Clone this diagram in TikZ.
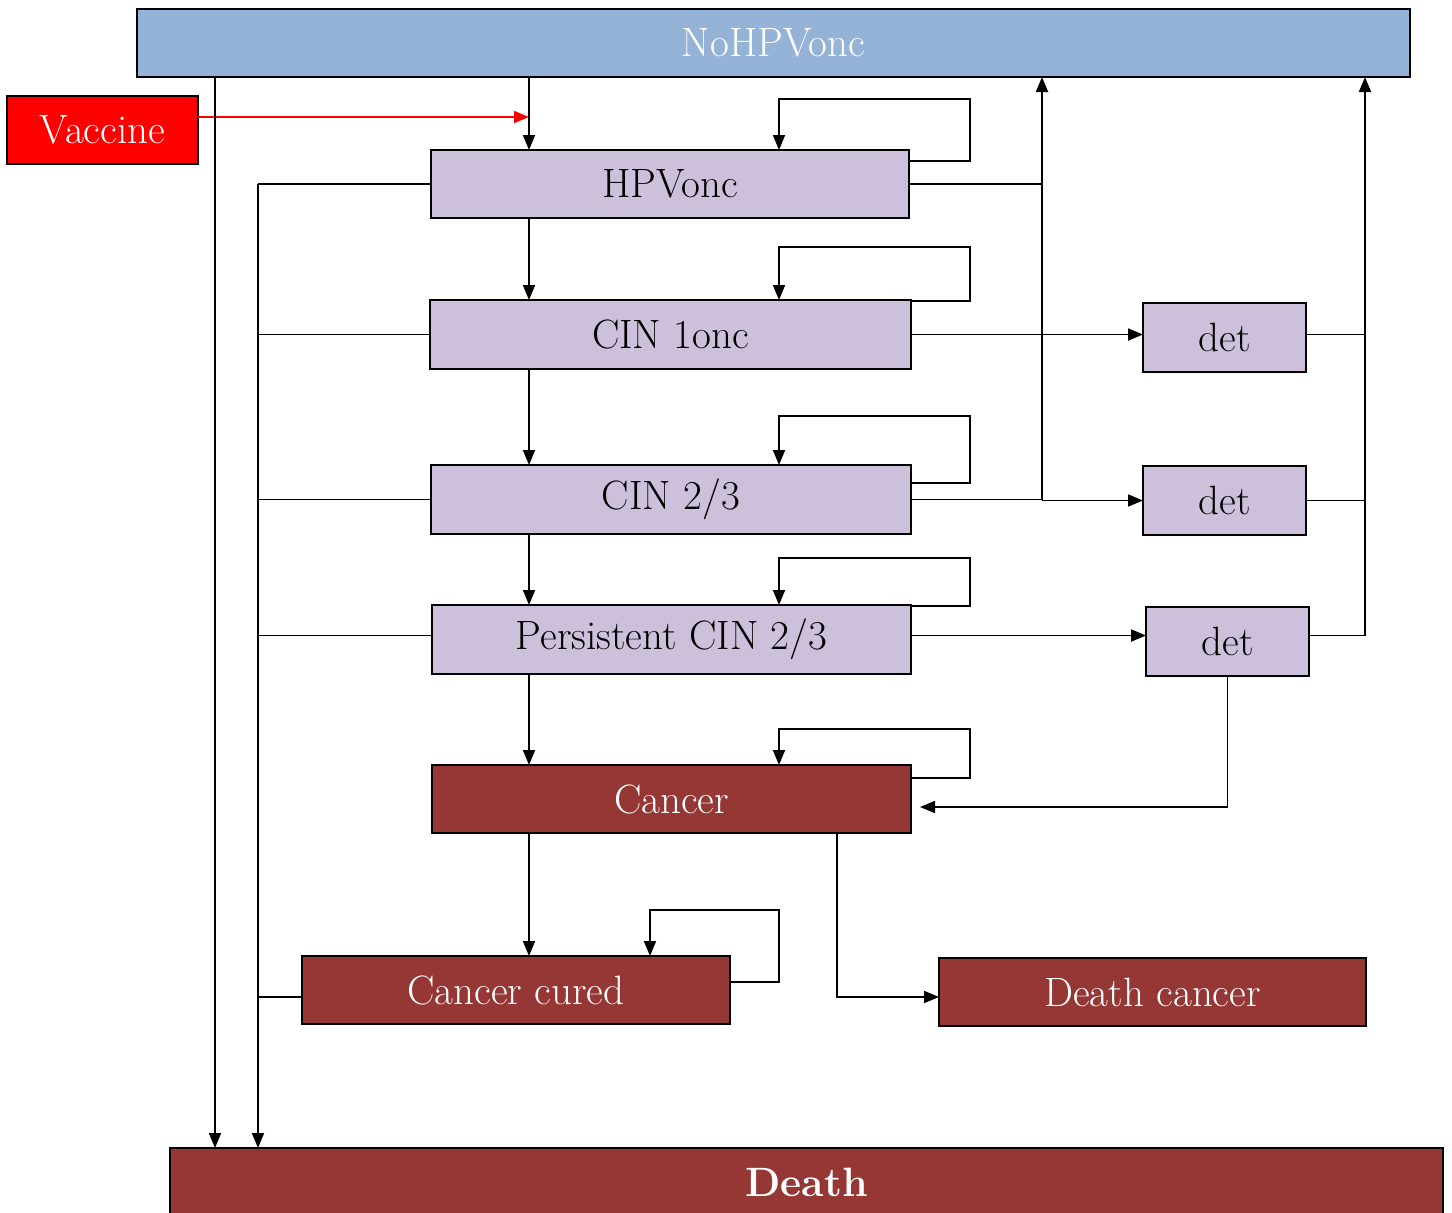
\documentclass[tikz,border=0pt]{standalone}
\usetikzlibrary{arrows.meta}
\definecolor{hpvblue}{HTML}{95B3D7}
\definecolor{lav}{HTML}{CCC0DA}
\definecolor{canc}{HTML}{953735}
\begin{document}
\begin{tikzpicture}[x=0.5pt,y=-0.5pt,
  box/.style={draw=black, line width=1pt, inner sep=0pt, outer sep=0pt,
    minimum height=34pt, font=\fontsize{20.5}{24}\selectfont},
  conn/.style={line width=0.9pt},
  arr/.style={conn, -{Triangle[length=7.5pt,width=6pt]}}]
\clip (0,0) rectangle (1452,1212);
% nodes
\node[box, fill=hpvblue, text=white, minimum width=636.5pt] (nohpv) at (773.5,43) {NoHPVonc};
\node[box, fill=red, text=white, minimum width=95.5pt] (vac) at (102.5,130) {Vaccine};
\node[box, fill=lav, minimum width=239pt] (hpv) at (670,184) {HPVonc};
\node[box, fill=lav, minimum width=240.5pt, minimum height=34.5pt] (cin1) at (670.5,334.5) {CIN 1onc};
\node[box, fill=lav, minimum width=240pt, minimum height=34.5pt] (cin23) at (671,499.5) {CIN 2/3};
\node[box, fill=lav, minimum width=239.5pt, minimum height=34.5pt] (pers) at (671.5,639.5) {Persistent CIN 2/3};
\node[box, fill=canc, text=white, minimum width=239.5pt] (cancer) at (671.5,799) {Cancer};
\node[box, fill=canc, text=white, minimum width=214pt] (cured) at (516,990) {Cancer cured};
\node[box, fill=canc, text=white, minimum width=213.5pt] (dcancer) at (1152.5,992) {Death cancer};
\node[box, fill=canc, text=white, minimum width=636.5pt, font=\fontsize{20.5}{24}\selectfont\bfseries] (death) at (806.5,1182) {Death};
\node[box, fill=lav, minimum width=81.5pt, minimum height=34.5pt] (det1) at (1224.5,337.5) {det};
\node[box, fill=lav, minimum width=81.5pt, minimum height=34.5pt] (det2) at (1224.5,500.5) {det};
\node[box, fill=lav, minimum width=81.5pt, minimum height=34.5pt] (det3) at (1227.5,641.5) {det};
% columns
\coordinate (xmain) at (529,0);
\coordinate (xd) at (215,0);
\coordinate (xbus) at (258,0);
\coordinate (xloopL) at (779,0);
\coordinate (xup) at (1042,0);
\coordinate (xr) at (1365,0);
\coordinate (xc) at (837,0);
\coordinate (l1) at (970,99);
\coordinate (l2) at (970,247);
\coordinate (l3) at (970,416);
\coordinate (l4) at (970,558);
\coordinate (l5) at (970,729);
\coordinate (l6) at (779,910);
\coordinate (xloopC) at (650,0);
% main chain
\draw[arr] (nohpv.south -| xmain) -- (hpv.north -| xmain);
\draw[arr] (hpv.south -| xmain) -- (cin1.north -| xmain);
\draw[arr] (cin1.south -| xmain) -- (cin23.north -| xmain);
\draw[arr] (cin23.south -| xmain) -- (pers.north -| xmain);
\draw[arr] (pers.south -| xmain) -- (cancer.north -| xmain);
\draw[arr] (cancer.south -| xmain) -- (cured.north -| xmain);
% vaccine
\draw[arr, red] ([yshift=6.5pt]vac.east) -- ([yshift=6.5pt]vac.east -| xmain);
% to death
\draw[arr] (nohpv.south -| xd) -- (death.north -| xd);
\draw[arr] (hpv.west -| xbus) -- (death.north -| xbus);
\draw[conn] (hpv.west) -- (hpv.west -| xbus);
\draw[conn] (cin1.west) -- (cin1.west -| xbus);
\draw[conn] (cin23.west) -- (cin23.west -| xbus);
\draw[conn] ([yshift=2pt]pers.west) -- ([yshift=2pt]pers.west -| xbus);
\draw[conn] ([yshift=-3.5pt]cured.west) -- ([yshift=-3.5pt]cured.west -| xbus);
% self loops
\draw[arr] ([yshift=11.5pt]hpv.east) -| (l1) -| (hpv.north -| xloopL);
\draw[arr] ([yshift=16.75pt]cin1.east) -| (l2) -| (cin1.north -| xloopL);
\draw[arr] ([yshift=8.25pt]cin23.east) -| (l3) -| (cin23.north -| xloopL);
\draw[arr] ([yshift=16.75pt]pers.east) -| (l4) -| (pers.north -| xloopL);
\draw[arr] ([yshift=10.5pt]cancer.east) -| (l5) -| (cancer.north -| xloopL);
\draw[arr] ([yshift=4pt]cured.east) -| (l6) -| (cured.north -| xloopC);
% back to NoHPVonc
\draw[arr] (hpv.east) -| (nohpv.south -| xup);
\draw[conn] (cin23.east) -- (cin23.east -| xup) -- (hpv.east -| xup);
\draw[arr] (det2.west -| xup) -- (det2.west);
\draw[arr] (cin1.east) -- (cin1.east -| det1.west);
\draw[arr] ([yshift=2pt]pers.east) -- ([yshift=2pt]pers.east -| det3.west);
\draw[conn] ([yshift=1.5pt]det1.east) -- ([yshift=1.5pt]det1.east -| xr);
\draw[conn] (det2.east) -- (det2.east -| xr);
\draw[conn] ([yshift=3pt]det3.east) -- ([yshift=3pt]det3.east -| xr);
\draw[arr] ([yshift=3pt]det3.east -| xr) -- (nohpv.south -| xr);
% det3 to cancer, cancer to death cancer
\draw[arr, shorten >=4.5pt] (det3.south) |- ([yshift=-4pt]cancer.east);
\draw[arr] (cancer.south -| xc) |- ([yshift=-2.5pt]dcancer.west);
\end{tikzpicture}
\end{document}
